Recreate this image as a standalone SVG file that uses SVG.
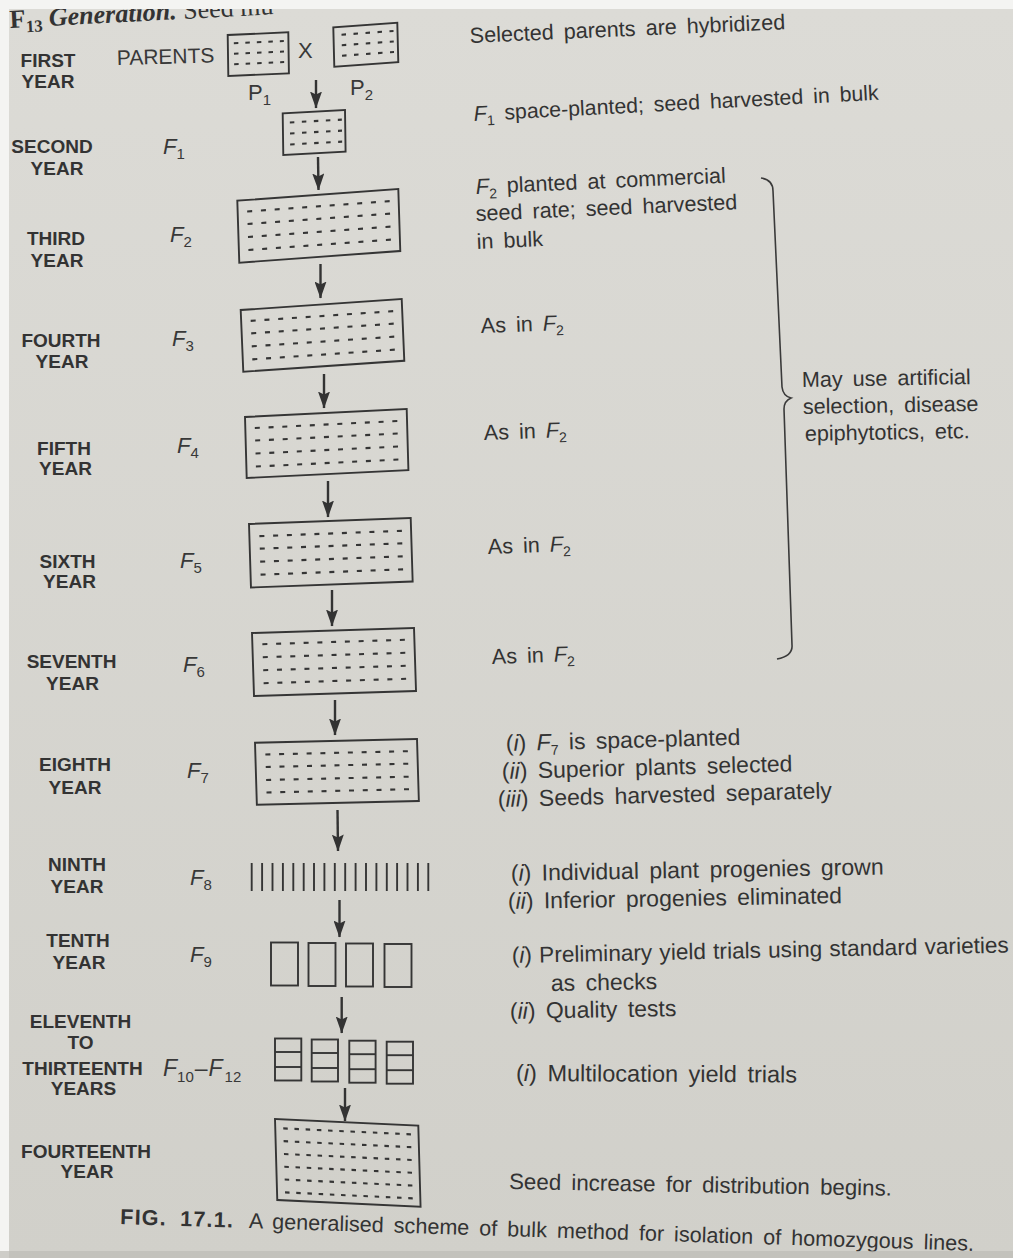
<svg xmlns="http://www.w3.org/2000/svg" width="1013" height="1258" viewBox="0 0 1013 1258">
<defs>
<linearGradient id="bg" x1="0" y1="0" x2="0" y2="1">
<stop offset="0" stop-color="#dcdbd6"/>
<stop offset="1" stop-color="#d1d0ca"/>
</linearGradient>
<marker id="ah" viewBox="0 0 17 12" refX="16.5" refY="6" markerWidth="17" markerHeight="12" markerUnits="userSpaceOnUse" orient="auto">
<path d="M0,0 L17,6 L0,12 L3,6 Z" fill="#333333"/>
</marker>
</defs>
<style>
.yr{font-family:"Liberation Sans",Arial,sans-serif;font-weight:bold;font-size:19px;fill:#333333;text-anchor:middle}
.gen{font-family:"Liberation Sans",Arial,sans-serif;font-size:22px;fill:#383838}
.it{font-style:italic}
.sub{font-size:15px;font-style:normal}
.dsub{font-size:14px;font-style:normal}
.desc{font-family:"Liberation Sans",Arial,sans-serif;font-size:21.6px;fill:#333333;word-spacing:4px}
.lg{font-size:23px}
.box{fill:none;stroke:#353535;stroke-width:1.9}
.dash{stroke:#353535;stroke-width:2.1;fill:none}
.conn{stroke:#333333;stroke-width:2.4;fill:none;marker-end:url(#ah)}
.brace{fill:none;stroke:#3a3a3a;stroke-width:1.6}
</style>

<rect width="1013" height="1258" fill="#f4f4f2"/>
<rect x="9" y="9" width="1004" height="1249" fill="url(#bg)"/>

<text transform="translate(10,28) rotate(-3)" font-family="'Liberation Serif',serif" font-weight="bold" font-size="26" fill="#333">F<tspan font-size="17" dy="5">13</tspan><tspan dy="-5" font-style="italic"> Generation.</tspan><tspan font-weight="normal"> Seed mu</tspan></text>
<rect width="1013" height="9" fill="#f4f4f2"/>

<g id="year-labels" class="yr">
<text><tspan x="48" y="67">FIRST</tspan><tspan x="48" y="88">YEAR</tspan></text>
<text><tspan x="52" y="153">SECOND</tspan><tspan x="57" y="175">YEAR</tspan></text>
<text><tspan x="56" y="245">THIRD</tspan><tspan x="57" y="267">YEAR</tspan></text>
<text><tspan x="61" y="347">FOURTH</tspan><tspan x="62" y="368">YEAR</tspan></text>
<text><tspan x="64" y="455">FIFTH</tspan><tspan x="65.5" y="475">YEAR</tspan></text>
<text><tspan x="67.5" y="568">SIXTH</tspan><tspan x="69.5" y="588">YEAR</tspan></text>
<text><tspan x="71.5" y="668">SEVENTH</tspan><tspan x="72.5" y="690">YEAR</tspan></text>
<text><tspan x="75" y="771">EIGHTH</tspan><tspan x="75" y="794">YEAR</tspan></text>
<text><tspan x="77" y="871">NINTH</tspan><tspan x="77" y="893">YEAR</tspan></text>
<text><tspan x="78" y="947">TENTH</tspan><tspan x="79" y="969">YEAR</tspan></text>
<text><tspan x="80.5" y="1028">ELEVENTH</tspan><tspan x="80.5" y="1049">TO</tspan><tspan x="82.5" y="1075">THIRTEENTH</tspan><tspan x="83.5" y="1095">YEARS</tspan></text>
<text><tspan x="86" y="1158">FOURTEENTH</tspan><tspan x="87" y="1178">YEAR</tspan></text>
</g>

<g id="generation-labels" class="gen">
<text transform="translate(117,65) rotate(-1.5)" font-size="21">PARENTS</text>
<text x="298" y="58">X</text>
<text x="248" y="100">P<tspan class="sub" dy="5">1</tspan></text>
<text x="350" y="95">P<tspan class="sub" dy="5">2</tspan></text>
<text x="163" y="154"><tspan class="it">F</tspan><tspan class="sub" dy="5">1</tspan></text>
<text x="170" y="242"><tspan class="it">F</tspan><tspan class="sub" dy="5">2</tspan></text>
<text x="172" y="346"><tspan class="it">F</tspan><tspan class="sub" dy="5">3</tspan></text>
<text x="177" y="453"><tspan class="it">F</tspan><tspan class="sub" dy="5">4</tspan></text>
<text x="180" y="568"><tspan class="it">F</tspan><tspan class="sub" dy="5">5</tspan></text>
<text x="183" y="672"><tspan class="it">F</tspan><tspan class="sub" dy="5">6</tspan></text>
<text x="187" y="778"><tspan class="it">F</tspan><tspan class="sub" dy="5">7</tspan></text>
<text x="190" y="885"><tspan class="it">F</tspan><tspan class="sub" dy="5">8</tspan></text>
<text x="190" y="962"><tspan class="it">F</tspan><tspan class="sub" dy="5">9</tspan></text>
<text x="163" y="1076" font-size="23"><tspan class="it">F</tspan><tspan class="sub" font-size="17" dy="6">10</tspan><tspan dy="-6" dx="1">–</tspan><tspan class="it" dx="1">F</tspan><tspan class="sub" font-size="17" dy="6" dx="2">12</tspan></text>
</g>

<g id="node-p1" transform="matrix(1,-0.0446,0.015,1,227.7,35)">
<rect class="box" width="60.6" height="41"/>
<g class="dash" stroke-dasharray="4.5 7"><line x1="6" y1="8.5" x2="56" y2="8.5"/><line x1="6" y1="19" x2="56" y2="19"/><line x1="6" y1="29.5" x2="56" y2="29.5"/></g>
</g>
<g id="node-p2" transform="matrix(1,-0.072,0.025,1,333.3,27.3)">
<rect class="box" width="64" height="39.4"/>
<g class="dash" stroke-dasharray="4.5 7.5"><line x1="8" y1="8" x2="60" y2="8"/><line x1="8" y1="18.5" x2="60" y2="18.5"/><line x1="8" y1="29" x2="60" y2="29"/></g>
</g>
<g id="node-f1" transform="matrix(1,-0.053,0.014,1,282.7,113.3)">
<rect class="box" width="62.3" height="41.7"/>
<g class="dash" stroke-dasharray="4.5 7.5"><line x1="7" y1="9.5" x2="59" y2="9.5"/><line x1="7" y1="20.5" x2="59" y2="20.5"/><line x1="7" y1="31.5" x2="59" y2="31.5"/></g>
</g>
<g id="node-f2" transform="matrix(1,-0.0727,0.032,1,237.3,200.7)">
<rect class="box" width="161" height="62"/>
<g class="dash" stroke-dasharray="5 8.75"><line x1="9.5" y1="11.5" x2="152" y2="11.5"/><line x1="9.5" y1="24" x2="152" y2="24"/><line x1="9.5" y1="37" x2="152" y2="37"/><line x1="9.5" y1="50" x2="152" y2="50"/></g>
</g>
<g id="node-f3" transform="matrix(1,-0.068,0.042,1,240.7,310)">
<rect class="box" width="161" height="61.7"/>
<g class="dash" stroke-dasharray="5 8.75"><line x1="9.5" y1="11.5" x2="152" y2="11.5"/><line x1="9.5" y1="24" x2="152" y2="24"/><line x1="9.5" y1="37" x2="152" y2="37"/><line x1="9.5" y1="50" x2="152" y2="50"/></g>
</g>
<g id="node-f4" transform="matrix(1,-0.049,0.028,1,245,417)">
<rect class="box" width="161.7" height="61"/>
<g class="dash" stroke-dasharray="5 8.75"><line x1="9.5" y1="11.5" x2="152" y2="11.5"/><line x1="9.5" y1="24" x2="152" y2="24"/><line x1="9.5" y1="37" x2="152" y2="37"/><line x1="9.5" y1="50" x2="152" y2="50"/></g>
</g>
<g id="node-f5" transform="matrix(1,-0.037,0.031,1,249,524)">
<rect class="box" width="161.7" height="63.5"/>
<g class="dash" stroke-dasharray="5 8.75"><line x1="10" y1="12.5" x2="152.5" y2="12.5"/><line x1="10" y1="25" x2="152.5" y2="25"/><line x1="10" y1="38" x2="152.5" y2="38"/><line x1="10" y1="51" x2="152.5" y2="51"/></g>
</g>
<g id="node-f6" transform="matrix(1,-0.031,0.032,1,252,633)">
<rect class="box" width="162" height="63"/>
<g class="dash" stroke-dasharray="5 8.75"><line x1="10" y1="11.5" x2="152.5" y2="11.5"/><line x1="10" y1="24.5" x2="152.5" y2="24.5"/><line x1="10" y1="37.5" x2="152.5" y2="37.5"/><line x1="10" y1="50.5" x2="152.5" y2="50.5"/></g>
</g>
<g id="node-f7" transform="matrix(1,-0.023,0.03,1,255,742.7)">
<rect class="box" width="162" height="62"/>
<g class="dash" stroke-dasharray="5 8.75"><line x1="10" y1="12" x2="152.5" y2="12"/><line x1="10" y1="24.5" x2="152.5" y2="24.5"/><line x1="10" y1="37.5" x2="152.5" y2="37.5"/><line x1="10" y1="50" x2="152.5" y2="50"/></g>
</g>
<g id="node-f8" stroke="#353535" stroke-width="1.9">
<line x1="251.7" y1="863" x2="251.7" y2="891"/><line x1="262.1" y1="863" x2="262.1" y2="891"/><line x1="272.5" y1="863" x2="272.5" y2="891"/><line x1="282.9" y1="863" x2="282.9" y2="891"/><line x1="293.3" y1="863" x2="293.3" y2="891"/><line x1="303.7" y1="863" x2="303.7" y2="891"/><line x1="314.0" y1="863" x2="314.0" y2="891"/><line x1="324.4" y1="863" x2="324.4" y2="891"/><line x1="334.8" y1="863" x2="334.8" y2="891"/><line x1="345.2" y1="863" x2="345.2" y2="891"/><line x1="355.6" y1="863" x2="355.6" y2="891"/><line x1="366.0" y1="863" x2="366.0" y2="891"/><line x1="376.4" y1="863" x2="376.4" y2="891"/><line x1="386.8" y1="863" x2="386.8" y2="891"/><line x1="397.1" y1="863" x2="397.1" y2="891"/><line x1="407.5" y1="863" x2="407.5" y2="891"/><line x1="417.9" y1="863" x2="417.9" y2="891"/><line x1="428.3" y1="863" x2="428.3" y2="891"/>
</g>
<g id="node-f9">
<rect class="box" x="271" y="942.5" width="27" height="43"/>
<rect class="box" x="308.5" y="943" width="27" height="43"/>
<rect class="box" x="346" y="943.5" width="27" height="43"/>
<rect class="box" x="384.5" y="944" width="27" height="43"/>
</g>
<g id="node-f10-f12">
<rect class="box" x="275" y="1038.5" width="26.3" height="42"/>
<line class="box" x1="275" y1="1052" x2="301.3" y2="1052"/><line class="box" x1="275" y1="1067" x2="301.3" y2="1067"/>
<rect class="box" x="311.7" y="1039.5" width="26.3" height="42"/>
<line class="box" x1="311.7" y1="1053" x2="338" y2="1053"/><line class="box" x1="311.7" y1="1068" x2="338" y2="1068"/>
<rect class="box" x="349.3" y="1040.7" width="26.3" height="42"/>
<line class="box" x1="349.3" y1="1054.2" x2="375.6" y2="1054.2"/><line class="box" x1="349.3" y1="1069.2" x2="375.6" y2="1069.2"/>
<rect class="box" x="386.7" y="1041.7" width="26.3" height="42"/>
<line class="box" x1="386.7" y1="1055.2" x2="413" y2="1055.2"/><line class="box" x1="386.7" y1="1070.2" x2="413" y2="1070.2"/>
</g>
<g id="node-f14" transform="matrix(1,0.0467,0.028,1,275,1119)">
<rect class="box" width="143.3" height="81"/>
<g class="dash" stroke-dasharray="4.5 6.7"><line x1="8" y1="9" x2="135.7" y2="9"/><line x1="8" y1="21.8" x2="135.7" y2="21.8"/><line x1="8" y1="34.6" x2="135.7" y2="34.6"/><line x1="8" y1="47.4" x2="135.7" y2="47.4"/><line x1="8" y1="60.2" x2="135.7" y2="60.2"/><line x1="8" y1="73" x2="135.7" y2="73"/></g>
</g>

<g id="connectors">
<line class="conn" x1="316" y1="80" x2="316" y2="108"/>
<line class="conn" x1="318" y1="157" x2="318.5" y2="190"/>
<line class="conn" x1="320.5" y1="264" x2="320.5" y2="298"/>
<line class="conn" x1="324" y1="374" x2="324" y2="408"/>
<line class="conn" x1="328" y1="481" x2="328" y2="517"/>
<line class="conn" x1="332" y1="590" x2="332" y2="626"/>
<line class="conn" x1="335" y1="700" x2="335" y2="735"/>
<line class="conn" x1="337.5" y1="810" x2="338" y2="851"/>
<line class="conn" x1="339.5" y1="900" x2="339.5" y2="937"/>
<line class="conn" x1="341.7" y1="997" x2="341.7" y2="1033"/>
<line class="conn" x1="345" y1="1088" x2="345" y2="1121"/>
</g>

<g id="descriptions" class="desc">
<text transform="translate(470,43) rotate(-2.5)">Selected parents are hybridized</text>
<text transform="translate(474,121) rotate(-3)" font-size="21.3"><tspan class="it">F</tspan><tspan class="dsub" dy="5">1</tspan><tspan dy="-5"> space-planted; seed harvested in bulk</tspan></text>
<text transform="translate(476,194) rotate(-2.6)"><tspan class="it">F</tspan><tspan class="dsub" dy="5">2</tspan><tspan dy="-5"> planted at commercial</tspan></text>
<text transform="translate(476,221) rotate(-2.6)">seed rate; seed harvested</text>
<text transform="translate(477,249) rotate(-2.6)">in bulk</text>
<text transform="translate(481,333) rotate(-2)">As in <tspan class="it">F</tspan><tspan class="dsub" dy="5">2</tspan></text>
<text transform="translate(484,440) rotate(-2)">As in <tspan class="it">F</tspan><tspan class="dsub" dy="5">2</tspan></text>
<text transform="translate(488,554) rotate(-2)">As in <tspan class="it">F</tspan><tspan class="dsub" dy="5">2</tspan></text>
<text transform="translate(492,664) rotate(-2)">As in <tspan class="it">F</tspan><tspan class="dsub" dy="5">2</tspan></text>
<g class="lg">
<text transform="translate(506,751) rotate(-1.5)">(<tspan class="it">i</tspan>) <tspan class="it">F</tspan><tspan class="dsub" dy="5">7</tspan><tspan dy="-5"> is space-planted</tspan></text>
<text transform="translate(502,779) rotate(-1.5)">(<tspan class="it">ii</tspan>) Superior plants selected</text>
<text transform="translate(498,807) rotate(-1.5)">(<tspan class="it">iii</tspan>) Seeds harvested separately</text>
<text transform="translate(511,881) rotate(-1)">(<tspan class="it">i</tspan>) Individual plant progenies grown</text>
<text transform="translate(508,909) rotate(-1)">(<tspan class="it">ii</tspan>) Inferior progenies eliminated</text>
<text transform="translate(512,963) rotate(-1.2)" font-size="22.6" word-spacing="1">(<tspan class="it">i</tspan>) Preliminary yield trials using standard varieties</text>
<text transform="translate(551,991) rotate(-1)">as checks</text>
<text transform="translate(510,1019) rotate(-1)">(<tspan class="it">ii</tspan>) Quality tests</text>
<text transform="translate(516,1081) rotate(0.3)" font-size="23.5">(<tspan class="it">i</tspan>) Multilocation yield trials</text>
<text transform="translate(509,1189) rotate(1)" font-size="22.3">Seed increase for distribution begins.</text>
</g>
</g>

<g id="brace-note">
<path class="brace" d="M761,178 Q773,180 773,191 L782,387 Q783,396 791,398 Q784,401 784,409 L792,645 Q793,656 777,659"/>
<text class="desc" transform="translate(802,387) rotate(-1)">May use artificial</text>
<text class="desc" transform="translate(803,414) rotate(-1)">selection, disease</text>
<text class="desc" transform="translate(805,441) rotate(-1)">epiphytotics, etc.</text>
</g>

<text id="caption" class="desc" font-size="22" transform="translate(120,1224) rotate(1.8)"><tspan font-weight="bold" letter-spacing="1.2" word-spacing="6">FIG. 17.1.</tspan><tspan dx="6"> A generalised scheme of bulk method for isolation of homozygous lines.</tspan></text>
<rect x="0" y="1251" width="1013" height="7" fill="#bdbcb6" opacity="0.7"/>
</svg>
